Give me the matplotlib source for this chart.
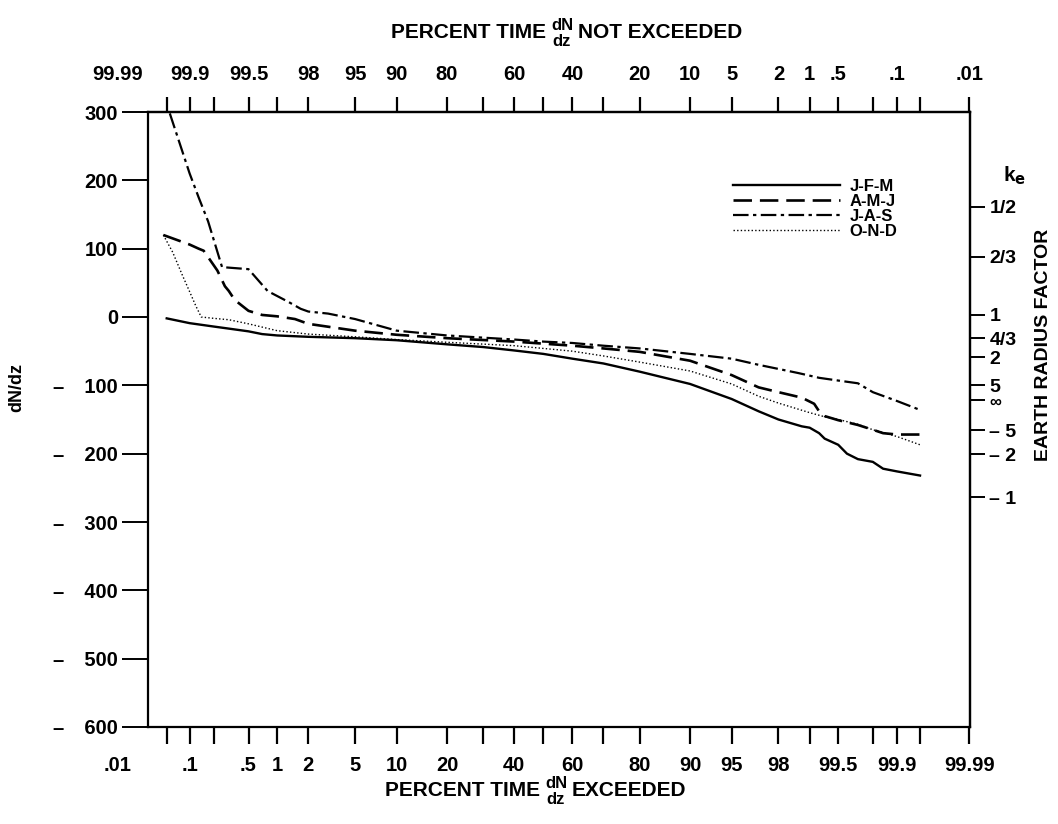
import matplotlib
matplotlib.use("Agg")
import matplotlib.pyplot as plt
import numpy as np
from statistics import NormalDist

plt.rcParams["font.family"] = ["Liberation Sans", "DejaVu Sans"]
plt.rcParams["font.weight"] = "bold"

# percent of time dN/dz exceeded, and dN/dz values for each season
jfm_p = [0.05, 0.1, 0.2, 0.3, 0.5, 0.7, 1, 2, 5, 10, 20, 30, 40, 50, 60, 70, 80, 90, 95,
         97, 98, 98.8, 99, 99.2, 99.3, 99.5, 99.6, 99.7, 99.8, 99.85, 99.9, 99.95]
jfm_dn = [-2, -9, -14, -17, -21, -25, -27, -29, -31, -34, -40, -44, -49, -54, -61, -68, -80, -98, -120,
          -138, -150, -160, -162, -170, -178, -187, -200, -208, -212, -222, -226, -232]

amj_p = [0.045, 0.08, 0.1, 0.13, 0.15, 0.22, 0.27, 0.3, 0.35, 0.5, 0.7, 1, 1.5, 2, 5, 10, 20, 40, 60,
         70, 80, 90, 95, 97, 98, 98.8, 99.1, 99.2, 99.3, 99.5, 99.7, 99.8, 99.85, 99.9, 99.95]
amj_dn = [120, 110, 106, 100, 97, 68, 45, 38, 25, 9, 3, 1, -3, -10, -20, -26, -31, -36, -42,
          -46, -51, -64, -85, -103, -110, -118, -127, -138, -145, -151, -158, -165, -170, -172, -172]

jas_p = [0.055, 0.1, 0.13, 0.17, 0.25, 0.5, 0.8, 1.3, 1.7, 2, 3, 5, 10, 20, 40, 50, 60, 70, 80,
         90, 95, 97, 98, 98.7, 99.2, 99.5, 99.7, 99.8, 99.9, 99.95]
jas_dn = [298, 210, 175, 140, 73, 70, 38, 22, 12, 8, 5, -3, -20, -27, -33, -36, -38, -42, -46,
          -54, -61, -70, -76, -82, -89, -93, -97, -110, -123, -136]

ond_p = [0.045, 0.06, 0.08, 0.1, 0.12, 0.14, 0.2, 0.3, 0.5, 1, 2, 5, 10, 20, 40, 60, 70, 80, 90,
         95, 97, 98, 99, 99.3, 99.5, 99.7, 99.8, 99.9, 99.95]
ond_dn = [120, 95, 62, 37, 16, 0, -2, -4, -10, -20, -25, -29, -33, -37, -42, -50, -57, -66, -79,
          -98, -116, -126, -140, -146, -150, -157, -165, -175, -187]

series_names = ["J-F-M", "A-M-J", "J-A-S", "O-N-D"]

# probability axis ticks
tick_p = [0.05, 0.1, 0.2, 0.5, 1, 2, 5, 10, 20, 30, 40, 50, 60, 70, 80, 90, 95, 98, 99,
          99.5, 99.8, 99.9, 99.95, 99.99]
bottom_labels = {0.1: ".1", 0.5: ".5", 1: "1", 2: "2", 5: "5", 10: "10", 20: "20", 40: "40",
                 60: "60", 80: "80", 90: "90", 95: "95", 98: "98", 99.5: "99.5", 99.9: "99.9",
                 99.99: "99.99"}
top_labels = {0.1: "99.9", 0.5: "99.5", 2: "98", 5: "95", 10: "90", 20: "80", 40: "60",
              60: "40", 80: "20", 90: "10", 95: "5", 98: "2", 99: "1", 99.5: ".5",
              99.9: ".1", 99.99: ".01"}
# the .01 end sits beyond the left frame, label only
edge_p = 0.01
edge_bottom, edge_top = ".01", "99.99"

y_ticks = [300, 200, 100, 0, -100, -200, -300, -400, -500, -600]
y_labels = ["300", "200", "100", "0"] + ["–\u2003" + str(v) for v in (100, 200, 300, 400, 500, 600)]

# earth radius factor ticks, at the dN/dz where they are drawn
ke_pos = [161, 88, 3, -31, -59, -100, -122, -166, -201, -264]
ke_labels = ["1/2", "2/3", "1", "4/3", "2", "5", "∞", "– 5", "– 2", "– 1"]

nd = NormalDist()


def z(p):
    return np.array([nd.inv_cdf(v / 100.0) for v in np.atleast_1d(p)])


W, H = 1058, 824
fig = plt.figure(figsize=(W / 100, H / 100), dpi=100)
ax = fig.add_axes([148 / W, 1 - 727 / H, (970 - 148) / W, (727 - 112) / H])

xlo, xhi = -3.454, 3.727
ax.set_xlim(xlo, xhi)
ax.set_ylim(-600, 300)

ax.plot(z(jfm_p), jfm_dn, color="black", lw=1.7, ls="-", label=series_names[0])
ax.plot(z(amj_p), amj_dn, color="black", lw=1.9, ls=(0, (7, 3)), label=series_names[1])
ax.plot(z(jas_p), jas_dn, color="black", lw=1.6, ls=(0, (7, 2, 1.5, 2)), label=series_names[2])
ax.plot(z(ond_p), ond_dn, color="black", lw=1.0, ls=(0, (1, 1.6)), label=series_names[3])

for s in ax.spines.values():
    s.set_linewidth(1.6)

# bottom axis
bt = list(z(tick_p))
ax.set_xticks(bt)
ax.set_xticklabels([bottom_labels.get(p, "") for p in tick_p])
ax.tick_params(axis="x", direction="out", length=12, width=1.6, labelsize=14.5, pad=9)

ax.set_yticks(y_ticks)
ax.set_yticklabels(y_labels)
ax.tick_params(axis="y", direction="out", length=18.5, width=1.4, labelsize=14.5, pad=3)

# top axis
top = ax.secondary_xaxis("top")
top.set_xticks(bt)
top.set_xticklabels([top_labels.get(p, "") for p in tick_p])
top.tick_params(direction="out", length=11, width=1.6, labelsize=14.5, pad=9)
top.spines["top"].set_linewidth(1.6)

ze = z(edge_p)[0]
ax.annotate(edge_bottom, xy=(ze, 0), xycoords=("data", "axes fraction"),
            xytext=(0, -21), textcoords="offset points", ha="center", va="top",
            fontsize=14.5, annotation_clip=False)
ax.annotate(edge_top, xy=(ze, 1), xycoords=("data", "axes fraction"),
            xytext=(0, 20), textcoords="offset points", ha="center", va="bottom",
            fontsize=14.5, annotation_clip=False)

# right axis, earth radius factor
right = ax.secondary_yaxis("right")
right.set_yticks(ke_pos)
right.set_yticklabels(ke_labels)
right.tick_params(direction="out", length=11, width=1.4, labelsize=14, pad=3)
right.spines["right"].set_linewidth(1.6)
for t in right.get_yticklabels():
    if t.get_text() == "∞":
        t.set_fontsize(12)
fig.text(1044 / W, 1 - 345 / H, "EARTH RADIUS FACTOR", fontsize=14, fontweight="bold",
         rotation=90, ha="center", va="center")
fig.text(1015 / W, 1 - 176 / H, r"k$_{\rm e}$", fontsize=15, ha="center", va="center")

fig.text(17 / W, 1 - 388 / H, "dN/dz", fontsize=13, fontweight="bold",
         rotation=90, ha="center", va="center")

leg = ax.legend(loc="upper right", bbox_to_anchor=(0.93, 0.915), frameon=False,
                handlelength=6.4, handletextpad=0.6, labelspacing=0.0, fontsize=12)


def frac_title(cx, cy, left, right_txt):
    fig.text((cx - 16) / W, 1 - cy / H, left, fontsize=15, ha="right", va="center")
    fig.text(cx / W, 1 - (cy - 7) / H, "dN", fontsize=12, ha="center", va="center")
    fig.text(cx / W, 1 - (cy + 9) / H, "dz", fontsize=12, ha="center", va="center")
    fig.text((cx + 16) / W, 1 - cy / H, right_txt, fontsize=15, ha="left", va="center")


frac_title(562, 33, "PERCENT TIME", "NOT EXCEEDED")
frac_title(556, 790, "PERCENT TIME", "EXCEEDED")

fig.savefig("out.png", dpi=100, facecolor="white")
